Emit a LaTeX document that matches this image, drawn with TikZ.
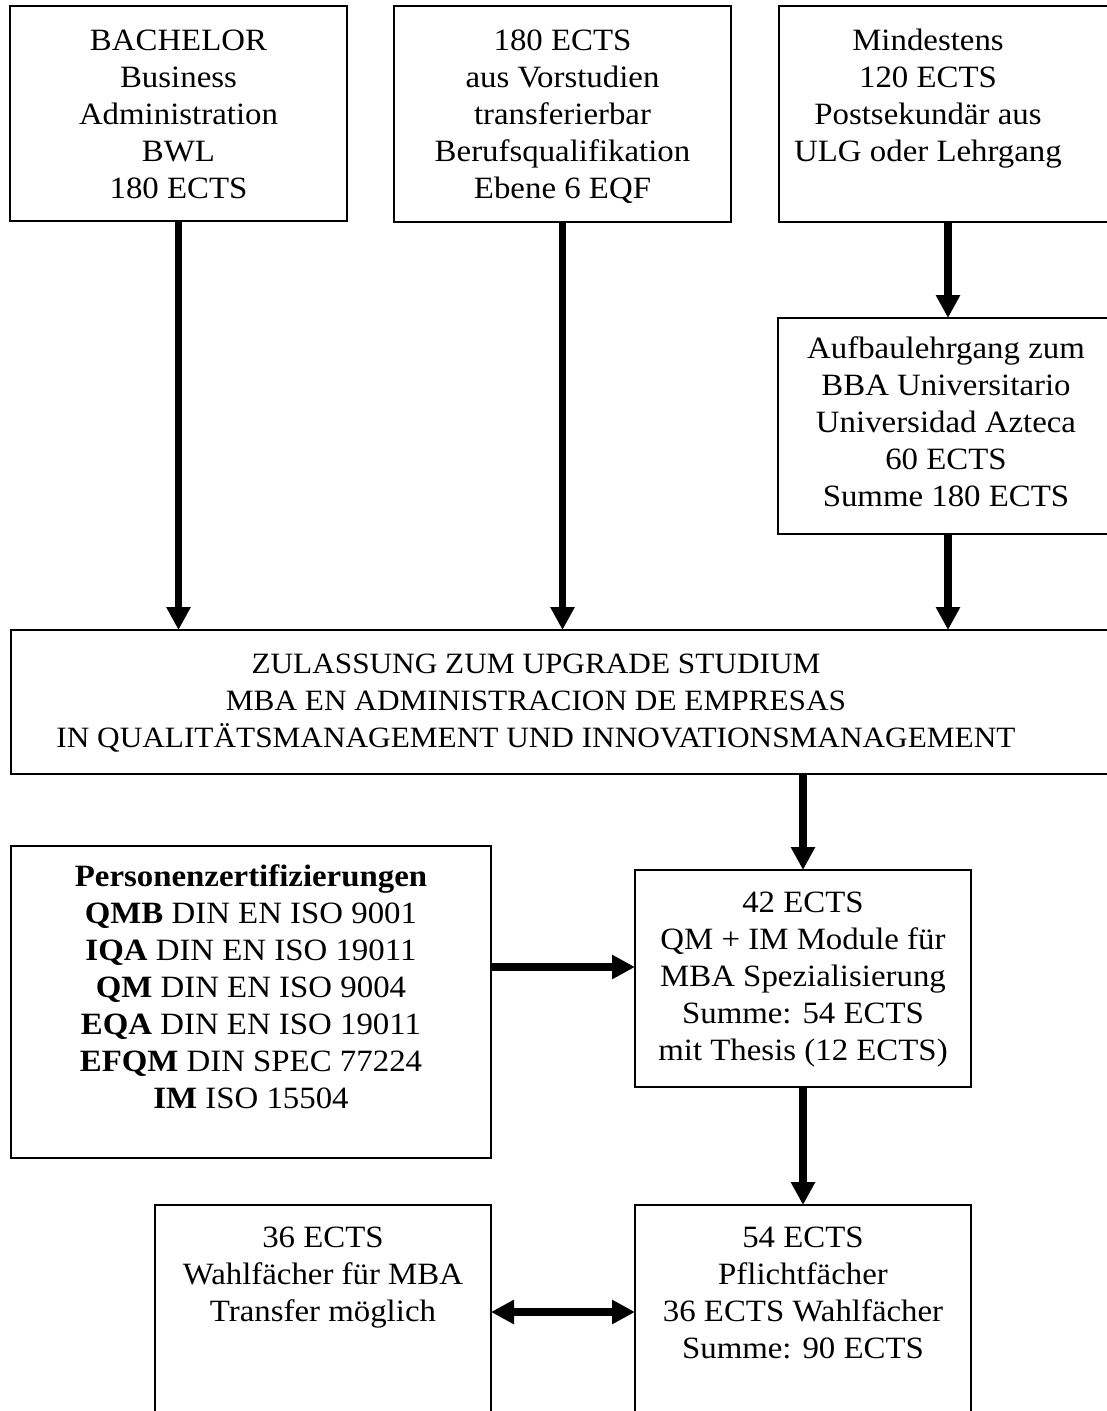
\documentclass[tikz,border=0pt]{standalone}
\usepackage{fontspec}
\setmainfont{Liberation Serif}[FakeStretch=1.06]
\usetikzlibrary{arrows.meta}
\newcommand{\blk}[1]{\begin{tabular}{@{}c@{}}#1\end{tabular}}
\begin{document}
\begin{tikzpicture}[x=1pt,y=-1pt,
 box/.style={draw, line width=1.8pt, inner sep=0pt, outer sep=0pt, rectangle},
 txt/.style={inner sep=0pt, outer sep=0pt, font=\fontsize{31}{37}\selectfont},
 arr/.style={line width=7.5pt, -{Triangle[width=23pt,length=23pt]}},
 darr/.style={line width=7.5pt, {Triangle[width=23pt,length=23pt]}-{Triangle[width=23pt,length=23pt]}}]
\useasboundingbox (0,0) rectangle (1107,1411);
\clip (0,0) rectangle (1107,1411);
% boxes
\node[box, minimum width=337, minimum height=215] (A) at (178.5,113.5) {};
\node[box, minimum width=337, minimum height=216] (B) at (562.5,114) {};
\node[box, minimum width=361, minimum height=216] (C) at (959.5,114) {};
\node[box, minimum width=362, minimum height=216] (D) at (959,426) {};
\node[box, minimum width=1129, minimum height=144] (E) at (575.5,702) {};
\node[box, minimum width=336, minimum height=217] (F) at (803,978.5) {};
\node[box, minimum width=480, minimum height=312] (G) at (251,1002) {};
\node[box, minimum width=336, minimum height=245] (H) at (323,1327.5) {};
\node[box, minimum width=336, minimum height=245] (I) at (803,1327.5) {};
% texts
\node[txt] (At) at (178.5,116.6) {\blk{BACHELOR\\Business\\Administration\\BWL\\180 ECTS}};
\node[txt] (Bt) at (562.5,116.6) {\blk{180 ECTS\\aus Vorstudien\\transferierbar\\Berufsqualifikation\\Ebene 6 EQF}};
\node[txt] (Ct) at (928,98.1) {\blk{Mindestens\\120 ECTS\\Postsekundär aus\\ULG oder Lehrgang}};
\node[txt] (Dt) at (946,424.6) {\blk{Aufbaulehrgang zum\\BBA Universitario\\Universidad Azteca\\60 ECTS\\Summe 180 ECTS}};
\node[txt, font=\fontsize{29.5}{37}\selectfont] (Et) at (536,702.6) {\blk{ZULASSUNG ZUM UPGRADE STUDIUM\\MBA EN ADMINISTRACION DE EMPRESAS\\IN QUALITÄTSMANAGEMENT UND INNOVATIONSMANAGEMENT}};
\node[txt] (Ft) at (803,979) {\blk{42 ECTS\\QM + IM Module für\\MBA Spezialisierung\\Summe: 54 ECTS\\mit Thesis (12 ECTS)}};
\node[txt] (Gt) at (251,990.3) {\blk{\textbf{Personenzertifizierungen}\\\textbf{QMB} DIN EN ISO 9001\\\textbf{IQA} DIN EN ISO 19011\\\textbf{QM} DIN EN ISO 9004\\\textbf{EQA} DIN EN ISO 19011\\\textbf{EFQM} DIN SPEC 77224\\\textbf{IM} ISO 15504}};
\node[txt] (Ht) at (323,1276.6) {\blk{36 ECTS\\Wahlfächer für MBA\\Transfer möglich}};
\node[txt] (It) at (803,1295.1) {\blk{54 ECTS\\Pflichtfächer\\36 ECTS Wahlfächer\\Summe: 90 ECTS}};
% connectors
\coordinate (gf) at (0,967);
\coordinate (hi) at (0,1312);
\coordinate (dx) at (948,0);
\draw[arr] (A.south) -- (A.south |- E.north);
\draw[arr] (B.south) -- (B.south |- E.north);
\draw[arr] (C.south -| dx) -- (D.north -| dx);
\draw[arr] (D.south -| dx) -- (E.north -| dx);
\draw[arr] (E.south -| F.north) -- (F.north);
\draw[arr] (G.east |- gf) -- (F.west |- gf);
\draw[arr] (F.south) -- (I.north);
\draw[darr] (H.east |- hi) -- (I.west |- hi);
\end{tikzpicture}
\end{document}
